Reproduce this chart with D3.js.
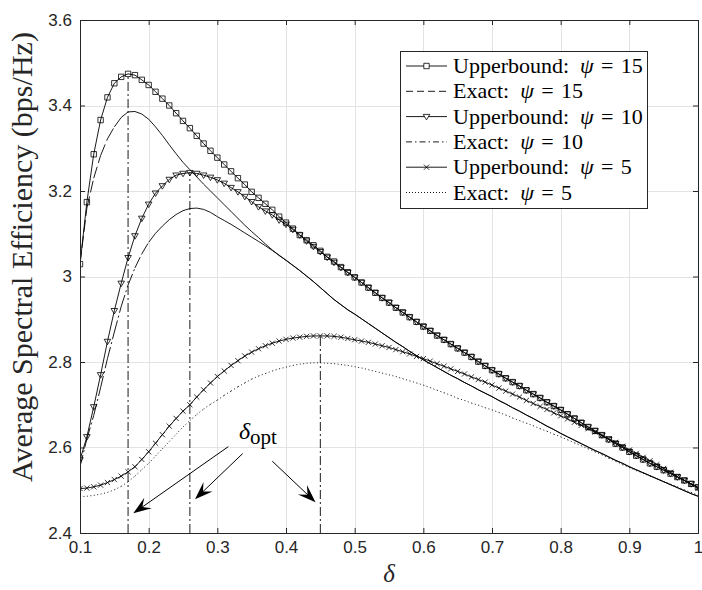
<!DOCTYPE html>
<html>
<head>
<meta charset="utf-8">
<script src="https://cdn.jsdelivr.net/npm/d3@7"></script>
<style>
  body { margin: 0; background: #fff; }
</style>
</head>
<body>
<div id="grafiek"></div>
<script>
// delta grid (x) and the six curves
const delta = [
  0.10, 0.11, 0.12, 0.13, 0.14, 0.15, 0.16, 0.17, 0.18, 0.19,
  0.20, 0.21, 0.22, 0.23, 0.24, 0.25, 0.26, 0.27, 0.28, 0.29,
  0.30, 0.31, 0.32, 0.33, 0.34, 0.35, 0.36, 0.37, 0.38, 0.39,
  0.40, 0.41, 0.42, 0.43, 0.44, 0.45, 0.46, 0.47, 0.48, 0.49,
  0.50, 0.51, 0.52, 0.53, 0.54, 0.55, 0.56, 0.57, 0.58, 0.59,
  0.60, 0.61, 0.62, 0.63, 0.64, 0.65, 0.66, 0.67, 0.68, 0.69,
  0.70, 0.71, 0.72, 0.73, 0.74, 0.75, 0.76, 0.77, 0.78, 0.79,
  0.80, 0.81, 0.82, 0.83, 0.84, 0.85, 0.86, 0.87, 0.88, 0.89,
  0.90, 0.91, 0.92, 0.93, 0.94, 0.95, 0.96, 0.97, 0.98, 0.99,
  1.00];

const upper15 = [
  3.029, 3.174, 3.286, 3.366, 3.419, 3.452, 3.467, 3.474, 3.471, 3.460,
  3.448, 3.432, 3.416, 3.400, 3.382, 3.364, 3.347, 3.329, 3.311, 3.294,
  3.278, 3.262, 3.246, 3.230, 3.215, 3.198, 3.184, 3.170, 3.156, 3.140,
  3.126, 3.112, 3.097, 3.085, 3.073, 3.060, 3.046, 3.035, 3.022, 3.010,
  2.998, 2.986, 2.974, 2.962, 2.950, 2.939, 2.927, 2.916, 2.905, 2.894,
  2.883, 2.873, 2.862, 2.852, 2.842, 2.832, 2.822, 2.812, 2.801, 2.791,
  2.781, 2.772, 2.762, 2.753, 2.744, 2.734, 2.725, 2.716, 2.706, 2.697,
  2.688, 2.678, 2.668, 2.658, 2.648, 2.639, 2.629, 2.619, 2.609, 2.600,
  2.590, 2.581, 2.572, 2.563, 2.555, 2.547, 2.539, 2.531, 2.523, 2.515,
  2.507];

const exact15 = [
  3.030, 3.160, 3.230, 3.283, 3.322, 3.350, 3.372, 3.385, 3.386, 3.380,
  3.368, 3.350, 3.330, 3.308, 3.287, 3.267, 3.250, 3.233, 3.216, 3.200,
  3.184, 3.168, 3.152, 3.136, 3.120, 3.105, 3.091, 3.076, 3.062, 3.049,
  3.038, 3.026, 3.014, 3.001, 2.988, 2.974, 2.960, 2.946, 2.934, 2.922,
  2.912, 2.901, 2.890, 2.879, 2.868, 2.857, 2.846, 2.836, 2.825, 2.815,
  2.805, 2.796, 2.787, 2.778, 2.769, 2.761, 2.752, 2.744, 2.735, 2.727,
  2.719, 2.710, 2.702, 2.693, 2.685, 2.676, 2.668, 2.659, 2.650, 2.642,
  2.633, 2.625, 2.617, 2.609, 2.601, 2.593, 2.586, 2.578, 2.570, 2.563,
  2.555, 2.548, 2.541, 2.534, 2.527, 2.520, 2.513, 2.506, 2.499, 2.492,
  2.486];

const upper10 = [
  2.571, 2.625, 2.695, 2.770, 2.848, 2.920, 2.984, 3.044, 3.095, 3.136,
  3.169, 3.195, 3.212, 3.227, 3.237, 3.241, 3.243, 3.241, 3.237, 3.232,
  3.226, 3.218, 3.208, 3.198, 3.187, 3.175, 3.163, 3.153, 3.144, 3.132,
  3.122, 3.110, 3.097, 3.083, 3.070, 3.058, 3.045, 3.033, 3.021, 3.009,
  2.998, 2.986, 2.974, 2.962, 2.950, 2.939, 2.927, 2.916, 2.905, 2.894,
  2.883, 2.873, 2.862, 2.852, 2.842, 2.832, 2.822, 2.812, 2.801, 2.791,
  2.781, 2.772, 2.762, 2.753, 2.744, 2.734, 2.725, 2.716, 2.706, 2.697,
  2.688, 2.678, 2.668, 2.658, 2.648, 2.639, 2.629, 2.619, 2.609, 2.600,
  2.590, 2.581, 2.572, 2.563, 2.555, 2.547, 2.539, 2.531, 2.523, 2.515,
  2.507];

const exact10 = [
  2.555, 2.620, 2.675, 2.740, 2.808, 2.870, 2.930, 2.980, 3.020, 3.053,
  3.080, 3.101, 3.118, 3.133, 3.145, 3.154, 3.159, 3.160, 3.157, 3.150,
  3.140, 3.131, 3.122, 3.112, 3.102, 3.092, 3.082, 3.072, 3.061, 3.050,
  3.038, 3.026, 3.014, 3.001, 2.988, 2.974, 2.960, 2.946, 2.934, 2.922,
  2.912, 2.901, 2.890, 2.879, 2.868, 2.857, 2.846, 2.836, 2.825, 2.815,
  2.805, 2.796, 2.787, 2.778, 2.769, 2.761, 2.752, 2.744, 2.735, 2.727,
  2.719, 2.710, 2.702, 2.693, 2.685, 2.676, 2.668, 2.659, 2.650, 2.642,
  2.633, 2.625, 2.617, 2.609, 2.601, 2.593, 2.586, 2.578, 2.570, 2.563,
  2.555, 2.548, 2.541, 2.534, 2.527, 2.520, 2.513, 2.506, 2.499, 2.492,
  2.486];

const upper5 = [
  2.504, 2.505, 2.508, 2.512, 2.518, 2.525, 2.533, 2.543, 2.555, 2.572,
  2.590, 2.610, 2.630, 2.650, 2.668, 2.685, 2.700, 2.718, 2.735, 2.751,
  2.766, 2.779, 2.792, 2.803, 2.814, 2.823, 2.831, 2.838, 2.844, 2.849,
  2.853, 2.856, 2.858, 2.860, 2.861, 2.861, 2.861, 2.860, 2.858, 2.855,
  2.852, 2.849, 2.846, 2.842, 2.838, 2.834, 2.829, 2.824, 2.819, 2.813,
  2.808, 2.802, 2.796, 2.790, 2.784, 2.778, 2.772, 2.765, 2.759, 2.753,
  2.746, 2.739, 2.732, 2.725, 2.718, 2.710, 2.703, 2.696, 2.689, 2.681,
  2.674, 2.667, 2.659, 2.652, 2.644, 2.636, 2.628, 2.620, 2.612, 2.603,
  2.594, 2.586, 2.577, 2.569, 2.560, 2.551, 2.542, 2.532, 2.523, 2.514,
  2.505];

const exact5 = [
  2.485, 2.486, 2.488, 2.491, 2.495, 2.501, 2.509, 2.520, 2.533, 2.548,
  2.563, 2.580, 2.597, 2.614, 2.631, 2.648, 2.663, 2.677, 2.690, 2.701,
  2.711, 2.722, 2.732, 2.742, 2.751, 2.760, 2.767, 2.773, 2.779, 2.784,
  2.788, 2.792, 2.795, 2.797, 2.798, 2.798, 2.797, 2.796, 2.794, 2.792,
  2.789, 2.786, 2.782, 2.778, 2.774, 2.770, 2.766, 2.761, 2.756, 2.751,
  2.746, 2.740, 2.734, 2.728, 2.722, 2.715, 2.710, 2.704, 2.699, 2.693,
  2.688, 2.682, 2.676, 2.669, 2.663, 2.657, 2.651, 2.644, 2.638, 2.631,
  2.625, 2.618, 2.611, 2.604, 2.597, 2.590, 2.583, 2.575, 2.568, 2.560,
  2.553, 2.546, 2.540, 2.533, 2.527, 2.520, 2.514, 2.508, 2.501, 2.495,
  2.489];

// optimum points (vertical dash-dot lines)
const optDelta = [0.17, 0.26, 0.45];
const optValue = [3.474, 3.243, 2.861];

// arrows of the delta_opt annotation, in data units
const pijlStart = [[0.316, 2.602], [0.337, 2.586], [0.380, 2.568]];
const pijlEind = [[0.1776, 2.446], [0.2675, 2.479], [0.443, 2.472]];
const labelPlek = [0.3315, 2.620];

const xTicks = [0.1, 0.2, 0.3, 0.4, 0.5, 0.6, 0.7, 0.8, 0.9, 1];
const xTickLabels = ["0.1", "0.2", "0.3", "0.4", "0.5", "0.6", "0.7", "0.8", "0.9", "1"];
const yTicks = [2.4, 2.6, 2.8, 3.0, 3.2, 3.4, 3.6];
const yTickLabels = ["2.4", "2.6", "2.8", "3", "3.2", "3.4", "3.6"];

const legendPsi = ["15", "15", "10", "10", "5", "5"];
const legendSoort = ["Upperbound:", "Exact:", "Upperbound:", "Exact:", "Upperbound:", "Exact:"];

const breedte = 702, hoogte = 590;
const rand = { boven: 20, rechts: 4, beneden: 57, links: 80 };
const asKleur = "#262626";
const serif = "'Liberation Serif', 'Times New Roman', serif";
const sans = "'Liberation Sans', Arial, Helvetica, sans-serif";

const x = d3.scaleLinear().domain([0.1, 1]).range([rand.links, breedte - rand.rechts]);
const y = d3.scaleLinear().domain([2.4, 3.6]).range([hoogte - rand.beneden, rand.boven]);

const svg = d3.select("#grafiek").append("svg")
  .attr("width", breedte)
  .attr("height", hoogte);

svg.append("defs").append("clipPath").attr("id", "vlak")
  .append("rect")
  .attr("x", x(0.1)).attr("y", y(3.6))
  .attr("width", x(1) - x(0.1)).attr("height", y(2.4) - y(3.6));

// grid
const rooster = svg.append("g").attr("stroke", "#e3e3e3").attr("stroke-width", 1);
rooster.selectAll(".vx").data(xTicks).join("line")
  .attr("x1", d => Math.round(x(d)) + 0.5).attr("x2", d => Math.round(x(d)) + 0.5)
  .attr("y1", y(3.6)).attr("y2", y(2.4));
rooster.selectAll(".hy").data(yTicks).join("line")
  .attr("y1", d => Math.round(y(d)) + 0.5).attr("y2", d => Math.round(y(d)) + 0.5)
  .attr("x1", x(0.1)).attr("x2", x(1));

const vlak = svg.append("g").attr("clip-path", "url(#vlak)");

// MATLAB restarts the dash pattern on each segment, so draw segment by segment
function reeks(waarden, dash) {
  const punten = delta.map((d, i) => [x(d), y(waarden[i])]);
  if (dash) {
    vlak.append("g").selectAll("line")
      .data(d3.pairs(punten)).join("line")
      .attr("x1", p => p[0][0]).attr("y1", p => p[0][1])
      .attr("x2", p => p[1][0]).attr("y2", p => p[1][1])
      .attr("stroke", "#000").attr("stroke-width", 0.9)
      .attr("stroke-dasharray", dash);
  } else {
    vlak.append("path")
      .datum(punten)
      .attr("d", d3.line())
      .attr("fill", "none").attr("stroke", "#000").attr("stroke-width", 0.9);
  }
  return punten;
}

const vierkant = "M-2.7,-2.7H2.7V2.7H-2.7Z";
const driehoek = "M-3.3,-2.2L3.3,-2.2L0,3.3Z";
const kruis = "M-2.6,-2.6L2.6,2.6M-2.6,2.6L2.6,-2.6";

function markers(punten, vorm) {
  vlak.append("g").selectAll("path")
    .data(punten).join("path")
    .attr("transform", p => `translate(${p[0]},${p[1]})`)
    .attr("d", vorm)
    .attr("fill", "none").attr("stroke", "#000").attr("stroke-width", 0.8);
}

reeks(exact5, "1,2.5");
reeks(exact10, "12,3,2,3");
reeks(exact15, "12,4");
const p5 = reeks(upper5, null);
const p10 = reeks(upper10, null);
const p15 = reeks(upper15, null);
markers(p5, kruis);
markers(p10, driehoek);
markers(p15, vierkant);

// vertical optimum lines
vlak.append("g").selectAll("line")
  .data(optDelta).join("line")
  .attr("x1", d => x(d)).attr("x2", d => x(d))
  .attr("y1", y(2.4)).attr("y2", (d, i) => y(optValue[i]))
  .attr("stroke", "#000").attr("stroke-width", 0.9)
  .attr("stroke-dasharray", "9,3,2,3");

// axes box + ticks
svg.append("g")
  .attr("transform", `translate(0,${y(2.4)})`)
  .call(d3.axisBottom(x).tickValues(xTicks).tickFormat((d, i) => xTickLabels[i]).tickSize(-5).tickPadding(8))
  .call(g => g.selectAll("text").attr("font-family", sans).attr("font-size", 17).attr("fill", asKleur))
  .call(g => g.selectAll("line,path").attr("stroke", asKleur));
svg.append("g")
  .attr("transform", `translate(0,${y(3.6)})`)
  .call(d3.axisTop(x).tickValues(xTicks).tickFormat("").tickSize(-5))
  .call(g => g.selectAll("line,path").attr("stroke", asKleur));
svg.append("g")
  .attr("transform", `translate(${x(0.1)},0)`)
  .call(d3.axisLeft(y).tickValues(yTicks).tickFormat((d, i) => yTickLabels[i]).tickSize(-5).tickPadding(8))
  .call(g => g.selectAll("text").attr("font-family", sans).attr("font-size", 17).attr("fill", asKleur))
  .call(g => g.selectAll("line,path").attr("stroke", asKleur));
svg.append("g")
  .attr("transform", `translate(${x(1)},0)`)
  .call(d3.axisRight(y).tickValues(yTicks).tickFormat("").tickSize(-5))
  .call(g => g.selectAll("line,path").attr("stroke", asKleur));

// axis labels; the y label is sized to span the same height as in the figure
const yLabel = svg.append("text")
  .attr("transform", "translate(32,257) rotate(-90)")
  .attr("text-anchor", "middle")
  .attr("font-family", serif).attr("font-size", 28)
  .attr("fill", asKleur)
  .text("Average Spectral Efficiency (bps/Hz)");
const gemeten = yLabel.node().getComputedTextLength();
if (gemeten > 0) yLabel.attr("font-size", 28 * 450 / gemeten);

svg.append("text")
  .attr("x", (x(0.1) + x(1)) / 2).attr("y", 582)
  .attr("text-anchor", "middle")
  .attr("font-family", serif).attr("font-size", 25).attr("font-style", "italic")
  .attr("fill", asKleur)
  .text("δ");

// delta_opt annotation
const opt = svg.append("text")
  .attr("x", x(labelPlek[0])).attr("y", y(labelPlek[1]))
  .attr("font-family", serif).attr("fill", "#000");
opt.append("tspan").attr("font-size", 24).attr("font-style", "italic").text("δ");
opt.append("tspan").attr("font-size", 21).attr("dy", 5).text("opt");

const pijlen = svg.append("g");
pijlStart.forEach((s, i) => {
  const x1 = x(s[0]), y1 = y(s[1]);
  const x2 = x(pijlEind[i][0]), y2 = y(pijlEind[i][1]);
  const hoek = Math.atan2(y2 - y1, x2 - x1);
  const lengte = Math.hypot(x2 - x1, y2 - y1);
  pijlen.append("line")
    .attr("x1", x1).attr("y1", y1)
    .attr("x2", x1 + Math.cos(hoek) * (lengte - 10)).attr("y2", y1 + Math.sin(hoek) * (lengte - 10))
    .attr("stroke", "#000").attr("stroke-width", 1);
  pijlen.append("path")
    .attr("d", "M0,0L-18,-6.5L-11,0L-18,6.5Z")
    .attr("transform", `translate(${x2},${y2}) rotate(${hoek * 180 / Math.PI})`)
    .attr("fill", "#000");
});

// legend
const leg = svg.append("g").attr("transform", "translate(400,51)");
leg.append("rect")
  .attr("x", 0.5).attr("y", 0.5).attr("width", 247).attr("height", 157)
  .attr("fill", "#fff").attr("stroke", asKleur).attr("stroke-width", 1);
const legendDash = [null, "7,4", null, "6,3,1.5,3", null, "1,2"];
const legendVorm = [vierkant, null, driehoek, null, kruis, null];
legendSoort.forEach((soort, i) => {
  const ry = 15 + i * 25.3;
  leg.append("line")
    .attr("x1", 6).attr("x2", 47).attr("y1", ry).attr("y2", ry)
    .attr("stroke", "#000").attr("stroke-width", 0.9)
    .attr("stroke-dasharray", legendDash[i]);
  if (legendVorm[i]) {
    leg.append("path").attr("d", legendVorm[i])
      .attr("transform", `translate(26.5,${ry})`)
      .attr("fill", "#fff").attr("stroke", "#000").attr("stroke-width", 0.8);
  }
  const t = leg.append("text")
    .attr("x", 53).attr("y", ry + 7)
    .attr("font-family", serif).attr("font-size", 22).attr("fill", "#000");
  t.append("tspan").text(soort + "\u2002");
  t.append("tspan").attr("font-style", "italic").text("ψ");
  t.append("tspan").text("\u2004=\u2004" + legendPsi[i]);
});
</script>
</body>
</html>
